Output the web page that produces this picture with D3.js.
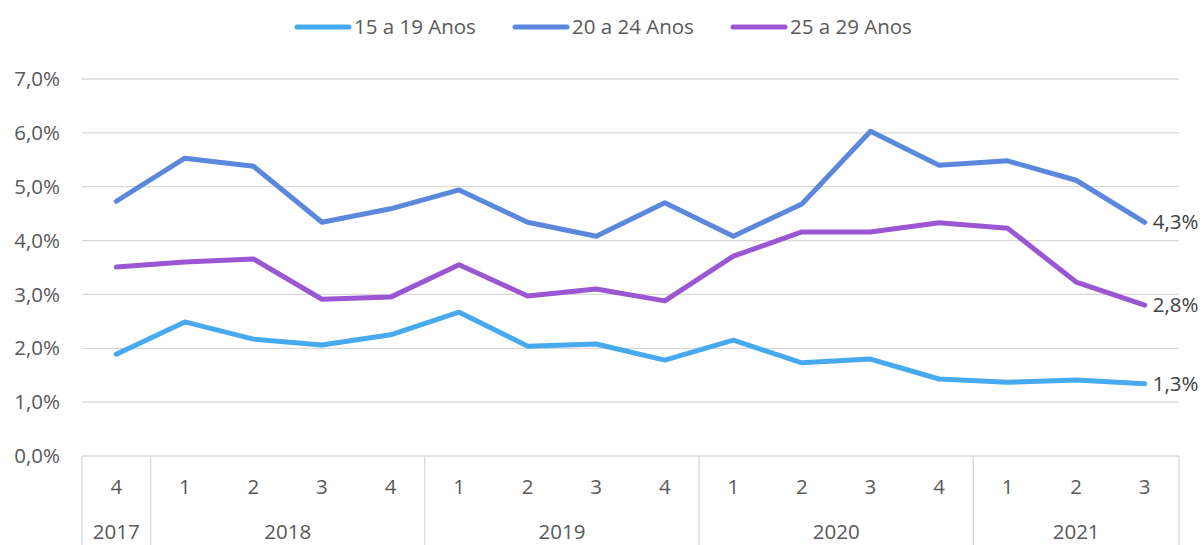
<!DOCTYPE html>
<html><head><meta charset="utf-8">
<script src="https://cdn.jsdelivr.net/npm/d3@7"></script>
<style>body{margin:0;background:#fff}svg{display:block}text{font-family:"Open Sans","Noto Sans",sans-serif}</style>
</head><body><svg id="c" width="1203" height="545"></svg>
<script>
const quarters = ["4","1","2","3","4","1","2","3","4","1","2","3","4","1","2","3"];
const years = ["2017","2018","2018","2018","2018","2019","2019","2019","2019","2020","2020","2020","2020","2021","2021","2021"];
const s15 = [1.89,2.49,2.17,2.06,2.25,2.67,2.04,2.08,1.78,2.15,1.73,1.80,1.43,1.37,1.41,1.34];
const s20 = [4.73,5.53,5.38,4.34,4.59,4.94,4.34,4.08,4.70,4.08,4.68,6.03,5.40,5.48,5.12,4.34];
const s25 = [3.51,3.60,3.66,2.91,2.95,3.55,2.97,3.10,2.88,3.71,4.16,4.16,4.33,4.23,3.23,2.80];
const seriesNames = ["15 a 19 Anos","20 a 24 Anos","25 a 29 Anos"];
const yTicks = [0,1,2,3,4,5,6,7];

const colors = ["#47A9EE","#5B87DC","#9B57D3"];
const series = [s15,s20,s25];
const FS = 20.5;
const svg = d3.select("#c");
const L=82,R=1179,T=79,B=456;
const idx = d3.range(quarters.length);
const x = d3.scaleBand().domain(idx).range([L,R]);
const y = d3.scaleLinear().domain([0,7]).range([B,T]);
const fmt = v => d3.format(".1f")(v).replace(".",",")+"%";

// gridlines
svg.append("g").selectAll("line").data(yTicks.slice(1)).join("line")
  .attr("x1",L).attr("x2",R).attr("y1",d=>y(d)).attr("y2",d=>y(d))
  .attr("stroke","#d9d9d9").attr("stroke-width",1.3);
// y labels
svg.append("g").selectAll("text").data(yTicks).join("text")
  .attr("x",60).attr("y",d=>y(d)).attr("dy","0.35em").attr("text-anchor","end")
  .attr("font-size",FS).attr("fill","#595959").text(fmt);

// category axis
const ax = svg.append("g");
ax.append("line").attr("x1",L).attr("x2",R).attr("y1",B).attr("y2",B).attr("stroke","#d9d9d9").attr("stroke-width",1.3);
const groups = [];
years.forEach((yr,i)=>{ if(!groups.length||groups[groups.length-1].y!==yr) groups.push({y:yr,s:i,e:i}); else groups[groups.length-1].e=i; });
const bounds = [x(0)].concat(groups.map(g=>x(g.e)+x.bandwidth()));
ax.selectAll("line.b").data(bounds).join("line").attr("class","b")
  .attr("x1",d=>d).attr("x2",d=>d).attr("y1",B).attr("y2",545).attr("stroke","#d9d9d9").attr("stroke-width",1.3);
ax.selectAll("text.q").data(idx).join("text").attr("class","q")
  .attr("x",i=>x(i)+x.bandwidth()/2).attr("y",487).attr("dy","0.35em").attr("text-anchor","middle")
  .attr("font-size",FS).attr("fill","#595959").text(i=>quarters[i]);
ax.selectAll("text.y").data(groups).join("text").attr("class","y")
  .attr("x",g=>(x(g.s)+x(g.e)+x.bandwidth())/2).attr("y",532).attr("dy","0.35em").attr("text-anchor","middle")
  .attr("font-size",FS).attr("fill","#595959").text(g=>g.y);

// lines
const line = d3.line().x((d,i)=>x(i)+x.bandwidth()/2).y(d=>y(d));
series.forEach((s,k)=>{
  svg.append("path").datum(s).attr("d",line).attr("fill","none")
    .attr("stroke",colors[k]).attr("stroke-width",5).attr("stroke-linejoin","round").attr("stroke-linecap","round");
  const last = s.length-1;
  svg.append("text").attr("x",x(last)+x.bandwidth()/2+8).attr("y",y(s[last])).attr("dy","0.35em")
    .attr("font-size",FS).attr("fill","#404040").text(fmt(s[last]));
});

// legend
const legX=[297,515,733];
seriesNames.forEach((n,k)=>{
  svg.append("line").attr("x1",legX[k]).attr("x2",legX[k]+52).attr("y1",27).attr("y2",27)
    .attr("stroke",colors[k]).attr("stroke-width",5).attr("stroke-linecap","round");
  svg.append("text").attr("x",legX[k]+57).attr("y",27).attr("dy","0.35em")
    .attr("font-size",FS).attr("fill","#595959").text(n);
});
</script></body></html>
